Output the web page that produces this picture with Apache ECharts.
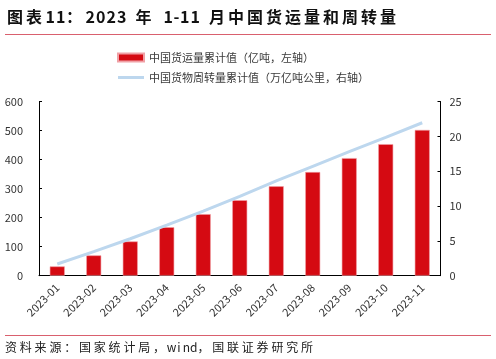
<!DOCTYPE html>
<html><head><meta charset="utf-8">
<script src="https://cdn.jsdelivr.net/npm/echarts@6/dist/echarts.min.js"></script>
<style>html,body{margin:0;padding:0;background:#fff}#c{width:496px;height:359px}</style>
</head><body><div id="c"></div>
<script>
const categories = ['2023-01','2023-02','2023-03','2023-04','2023-05','2023-06','2023-07','2023-08','2023-09','2023-10','2023-11'];
const freightVolume = [32, 70, 118, 167, 212, 260, 308, 357, 405, 453, 502];
const freightTurnover = [1.68, 3.45, 5.3, 7.27, 9.28, 11.39, 13.6, 15.7, 17.8, 19.85, 21.95];
const leftTicks = [0, 600, 100];
const rightTicks = [0, 25, 5];
const titleText = '图表11：2023 年 1-11 月中国货运量和周转量';
const sourceText = '资料来源：国家统计局，wind，国联证券研究所';
const seriesNames = ['中国货运量累计值（亿吨，左轴）', '中国货物周转量累计值（万亿吨公里，右轴）'];

const font = '"Noto Sans CJK SC", "Noto Sans", sans-serif';

// spaced text: place each character in a fixed-width cell (to mimic wide CJK typesetting)
function spacedText(str, x0, y, full, half, space, fontStr, fill, dash) {
  const els = [];
  let x = x0;
  for (const ch of str) {
    const isHalf = ch.charCodeAt(0) < 0x2E80;
    let adv = ch === ' ' ? space : (isHalf ? half : full);
    if (ch === '-' && dash) adv = dash;
    if (ch !== ' ') {
      els.push({type: 'text', x: isHalf ? x + adv / 2 : x, y: y, silent: true,
        style: {text: ch, font: fontStr, fill: fill, align: isHalf ? 'center' : 'left',
                textAlign: isHalf ? 'center' : 'left', textVerticalAlign: 'middle', verticalAlign: 'middle'}});
    }
    x += adv;
  }
  return els;
}

const graphics = [].concat(
  spacedText(titleText, 7, 17, 19, 10.5, 8.5, 'bold 16px ' + font, '#111', 6),
  [
    {type: 'line', silent: true, shape: {x1: 5, y1: 34.5, x2: 491, y2: 34.5}, style: {stroke: '#D9606E', lineWidth: 1.2}},
    {type: 'line', silent: true, shape: {x1: 5, y1: 335.5, x2: 491, y2: 335.5}, style: {stroke: '#D9606E', lineWidth: 1.2}}
  ],
  spacedText(sourceText, 5, 347, 14.8, 7.4, 7.4, '12px ' + font, '#222')
);

const chart = echarts.init(document.getElementById('c'), null, {renderer: 'canvas'});
chart.setOption({
  animation: false,
  backgroundColor: '#fff',
  textStyle: {fontFamily: font},
  graphic: graphics,
  legend: {
    orient: 'vertical', left: 117, top: 50.5, padding: 0, itemGap: 6, itemWidth: 26, itemHeight: 8,
    textStyle: {fontSize: 11, color: '#3a3a3a', fontFamily: font, lineHeight: 14},
    data: [
      {name: seriesNames[0], icon: 'rect'},
      {name: seriesNames[1], icon: 'path://M0,0 L26,0 L26,3 L0,3 Z'}
    ]
  },
  grid: {left: 39, right: 55.5, top: 101.5, bottom: 83.3},
  xAxis: {
    type: 'category', data: categories,
    axisLine: {lineStyle: {color: '#000', width: 1}},
    axisTick: {show: false},
    axisLabel: {rotate: 45, color: '#333', fontSize: 11, margin: 10, interval: 0}
  },
  yAxis: [
    {type: 'value', min: leftTicks[0], max: leftTicks[1], interval: leftTicks[2],
     splitLine: {show: false},
     axisLine: {show: true, lineStyle: {color: '#000'}},
     axisTick: {show: true, inside: true, length: 3, lineStyle: {color: '#000'}},
     axisLabel: {color: '#333', fontSize: 11, margin: 16}},
    {type: 'value', min: rightTicks[0], max: rightTicks[1], interval: rightTicks[2],
     splitLine: {show: false},
     axisLine: {show: true, lineStyle: {color: '#000'}},
     axisTick: {show: true, inside: true, length: 3, lineStyle: {color: '#000'}},
     axisLabel: {color: '#333', fontSize: 11, margin: 9}}
  ],
  series: [
    {name: seriesNames[0], type: 'bar', data: freightVolume, yAxisIndex: 0, barWidth: 15,
     itemStyle: {color: '#D50A12', borderColor: '#F0A0A5', borderWidth: 0.6}},
    {name: seriesNames[1], type: 'line', data: freightTurnover, yAxisIndex: 1, symbol: 'none',
     lineStyle: {color: '#BDD7EE', width: 3}, itemStyle: {color: '#BDD7EE'}}
  ]
});
</script></body></html>
